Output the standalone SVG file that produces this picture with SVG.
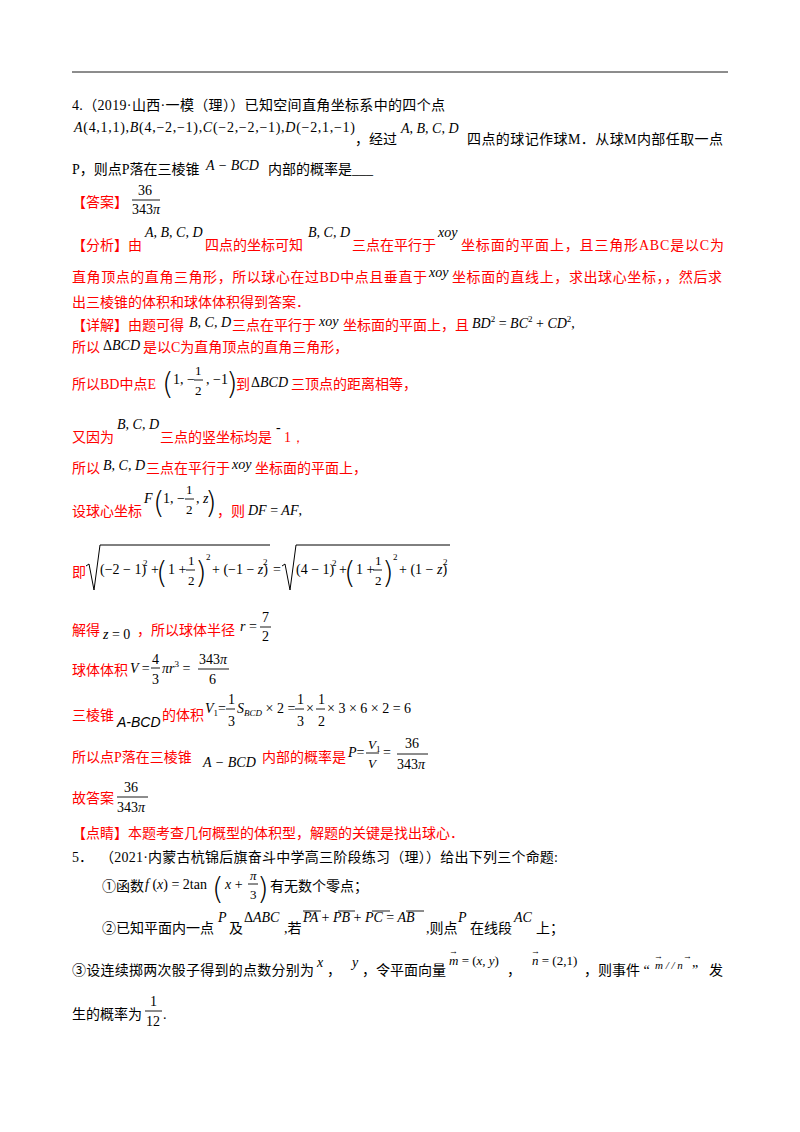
<svg xmlns="http://www.w3.org/2000/svg" width="800" height="1132" viewBox="0 0 800 1132">
<style>
text{font-family:"Liberation Serif","Noto Sans CJK SC",serif;font-size:14px;fill:#000}
.r{fill:#f00}
.m{font-family:"Liberation Serif",serif;font-style:italic}
.n{font-family:"Liberation Serif",serif;font-style:normal}
.s{font-size:9px}
.f{font-size:13px}
.p{font-family:"DejaVu Sans",sans-serif;font-size:30px;font-weight:200}
line{stroke:#000;stroke-width:0.9}
</style>
<rect width="800" height="1132" fill="#fff"/>
<line x1="72" y1="72" x2="728" y2="72" stroke-width="1.5"/>
<g id="q4">
<text x="72" y="110" textLength="373">4.（2019·山西·一模（理））已知空间直角坐标系中的四个点</text>
<text x="74" y="132" class="m" textLength="281"><tspan>A</tspan><tspan class="n">(4,1,1),</tspan>B<tspan class="n">(4,−2,−1),</tspan>C<tspan class="n">(−2,−2,−1),</tspan>D<tspan class="n">(−2,1,−1)</tspan></text>
<text x="355" y="144">，经过</text>
<text x="401" y="133" class="m">A, B, C, D</text>
<text x="467" y="144" textLength="256">四点的球记作球M．从球M内部任取一点</text>
<text x="72" y="174">P，则点P落在三棱锥</text>
<text x="206" y="170" class="m">A − BCD</text>
<text x="268" y="174">内部的概率是___</text>
</g>
<g id="ans">
<text x="72" y="207" class="r">【答案】</text>
<text x="138" y="195" class="n">36</text>
<line x1="132" y1="200" x2="160" y2="200"/>
<text x="132" y="214" class="n">343<tspan class="m">π</tspan></text>
<text x="72" y="250" class="r">【分析】由</text>
<text x="145" y="237" class="m">A, B, C, D</text>
<text x="205" y="250" class="r">四点的坐标可知</text>
<text x="308" y="237" class="m">B, C, D</text>
<text x="352" y="250" class="r">三点在平行于</text>
<text x="438" y="237" class="m">xoy</text>
<text x="461" y="250" class="r" textLength="263">坐标面的平面上，且三角形ABC是以C为</text>
<text x="72" y="282" class="r" textLength="355">直角顶点的直角三角形，所以球心在过BD中点且垂直于</text>
<text x="429" y="277" class="m">xoy</text>
<text x="452" y="282" class="r" textLength="270">坐标面的直线上，求出球心坐标，，然后求</text>
<text x="72" y="307" class="r">出三棱锥的体积和球体体积得到答案．</text>
<text x="72" y="330" class="r">【详解】由题可得</text>
<text x="189" y="327" class="m">B, C, D</text>
<text x="232" y="330" class="r">三点在平行于</text>
<text x="319" y="326" class="m">xoy</text>
<text x="343" y="330" class="r">坐标面的平面上，且</text>
<text x="472" y="328" class="m">BD<tspan class="s n" dy="-6">2</tspan><tspan class="n" dy="6"> = </tspan>BC<tspan class="s n" dy="-6">2</tspan><tspan class="n" dy="6"> + </tspan>CD<tspan class="s n" dy="-6">2</tspan><tspan class="n" dy="6">,</tspan></text>
<text x="72" y="352" class="r">所以</text>
<text x="103" y="350" class="m"><tspan class="n">Δ</tspan>BCD</text>
<text x="143" y="352" class="r">是以C为直角顶点的直角三角形，</text>
<text x="72" y="389" class="r">所以BD中点E</text>
<text x="162" y="394" class="p">(</text>
<text x="173" y="384" class="n">1, −</text>
<text x="195" y="375" class="n f">1</text>
<line x1="194" y1="380" x2="203" y2="380"/>
<text x="195" y="395" class="n f">2</text>
<text x="206" y="384" class="n">, −1</text>
<text x="226" y="394" class="p">)</text>
<text x="236" y="389" class="r">到</text>
<text x="251" y="387" class="m"><tspan class="n">Δ</tspan>BCD</text>
<text x="291" y="389" class="r">三顶点的距离相等，</text>
<text x="72" y="442" class="r">又因为</text>
<text x="117" y="429" class="m">B, C, D</text>
<text x="160" y="442" class="r">三点的竖坐标均是</text>
<text x="276" y="432" class="n">-</text>
<text x="284" y="442" class="n r">1，</text>
<text x="72" y="473" class="r">所以</text>
<text x="103" y="470" class="m">B, C, D</text>
<text x="146" y="473" class="r">三点在平行于</text>
<text x="232" y="469" class="m">xoy</text>
<text x="255" y="473" class="r">坐标面的平面上，</text>
<text x="72" y="516" class="r">设球心坐标</text>
<text x="144" y="503" class="m">F</text>
<text x="153" y="513" class="p">(</text>
<text x="163" y="503" class="n">1, −</text>
<text x="186" y="494" class="n f">1</text>
<line x1="185" y1="499" x2="194" y2="499"/>
<text x="186" y="514" class="n f">2</text>
<text x="196" y="503" class="n">, <tspan class="m">z</tspan></text>
<text x="205" y="513" class="p">)</text>
<text x="217" y="516" class="r">，则</text>
<text x="248" y="515" class="m">DF <tspan class="n">=</tspan> AF<tspan class="n">,</tspan></text>
<text x="72" y="577" class="r">即</text>
<path d="M86 566 L89 564 L94 590 L100 545 L270 545" fill="none" stroke="#000"/>
<text x="100" y="574" class="n">(−2 − 1)</text>
<text x="143" y="566" class="n s">2</text>
<text x="151" y="574" class="n">+</text>
<text x="156" y="583" class="p">(</text>
<text x="168" y="574" class="n">1 +</text>
<text x="188" y="565" class="n f">1</text>
<line x1="186" y1="570" x2="195" y2="570"/>
<text x="188" y="585" class="n f">2</text>
<text x="195" y="583" class="p">)</text>
<text x="206" y="560" class="n s">2</text>
<text x="212" y="574" class="n">+ (−1 − <tspan class="m">z</tspan>)</text>
<text x="263" y="565" class="n s">2</text>
<text x="273" y="574" class="n">=</text>
<path d="M282 566 L285 564 L290 590 L296 545 L450 545" fill="none" stroke="#000"/>
<text x="296" y="574" class="n">(4 − 1)</text>
<text x="332" y="566" class="n s">2</text>
<text x="339" y="574" class="n">+</text>
<text x="344" y="583" class="p">(</text>
<text x="356" y="574" class="n">1 +</text>
<text x="375" y="565" class="n f">1</text>
<line x1="373" y1="570" x2="382" y2="570"/>
<text x="375" y="585" class="n f">2</text>
<text x="382" y="583" class="p">)</text>
<text x="393" y="560" class="n s">2</text>
<text x="399" y="574" class="n">+ (1 − <tspan class="m">z</tspan>)</text>
<text x="443" y="565" class="n s">2</text>
<text x="72" y="635" class="r">解得</text>
<text x="103" y="639" class="m">z <tspan class="n">= 0</tspan></text>
<text x="137" y="635" class="r">，所以球体半径</text>
<text x="240" y="631" class="m">r <tspan class="n">=</tspan></text>
<text x="262" y="622" class="n">7</text>
<line x1="260" y1="627" x2="271" y2="627"/>
<text x="262" y="641" class="n">2</text>
<text x="72" y="675" class="r">球体体积</text>
<text x="130" y="673" class="m">V <tspan class="n">=</tspan></text>
<text x="152" y="664" class="n">4</text>
<line x1="151" y1="668" x2="160" y2="668"/>
<text x="152" y="684" class="n">3</text>
<text x="162" y="673" class="m">πr<tspan class="s n" dy="-6">3</tspan><tspan class="n" dy="6"> =</tspan></text>
<text x="199" y="664" class="n">343<tspan class="m">π</tspan></text>
<line x1="198" y1="669" x2="229" y2="669"/>
<text x="209" y="684" class="n">6</text>
<text x="72" y="720" class="r">三棱锥</text>
<text x="117" y="727" class="m" style="font-family:'Liberation Sans',sans-serif">A-BCD</text>
<text x="162" y="720" class="r">的体积</text>
<text x="205" y="713" class="m">V<tspan class="s n" dy="3">1</tspan><tspan class="n" dy="-3">=</tspan></text>
<text x="228" y="704" class="n">1</text>
<line x1="226" y1="709" x2="235" y2="709"/>
<text x="228" y="726" class="n">3</text>
<text x="237" y="713" class="m">S<tspan class="s" dy="3">BCD</tspan><tspan class="n" dy="-3"> × 2 =</tspan></text>
<text x="297" y="704" class="n">1</text>
<line x1="295" y1="709" x2="304" y2="709"/>
<text x="297" y="726" class="n">3</text>
<text x="306" y="713" class="n">×</text>
<text x="318" y="704" class="n">1</text>
<line x1="316" y1="709" x2="325" y2="709"/>
<text x="318" y="726" class="n">2</text>
<text x="327" y="713" class="n">× 3 × 6 × 2 = 6</text>
<text x="72" y="762" class="r">所以点P落在三棱锥</text>
<text x="203" y="767" class="m">A − BCD</text>
<text x="262" y="762" class="r">内部的概率是</text>
<text x="348" y="757" class="m">P<tspan class="n">=</tspan></text>
<text x="368" y="749" class="m f">V<tspan class="s n" dy="3">1</tspan></text>
<line x1="366" y1="753" x2="379" y2="753"/>
<text x="368" y="768" class="m f">V</text>
<text x="383" y="757" class="n">=</text>
<text x="405" y="748" class="n">36</text>
<line x1="397" y1="754" x2="428" y2="754"/>
<text x="397" y="769" class="n">343<tspan class="m">π</tspan></text>
<text x="72" y="803" class="r">故答案</text>
<text x="124" y="792" class="n">36</text>
<line x1="117" y1="797" x2="148" y2="797"/>
<text x="117" y="812" class="n">343<tspan class="m">π</tspan></text>
<text x="72" y="838" class="r">【点睛】本题考查几何概型的体积型，解题的关键是找出球心．</text>
</g>
<g id="q5">
<text x="72" y="862">5．</text>
<text x="100" y="862" textLength="458">（2021·内蒙古杭锦后旗奋斗中学高三阶段练习（理））给出下列三个命题:</text>
<text x="102" y="891">①函数</text>
<text x="145" y="889" class="m">f <tspan class="n">(</tspan>x<tspan class="n">) = 2tan</tspan></text>
<text x="212" y="899" class="p">(</text>
<text x="225" y="889" class="m">x <tspan class="n">+</tspan></text>
<text x="250" y="880" class="m f">π</text>
<line x1="248" y1="884" x2="258" y2="884"/>
<text x="250" y="899" class="n f">3</text>
<text x="257" y="899" class="p">)</text>
<text x="270" y="891">有无数个零点；</text>
<text x="102" y="933">②已知平面内一点</text>
<text x="218" y="922" class="m">P</text>
<text x="229" y="933">及</text>
<text x="244" y="922" class="m"><tspan class="n">Δ</tspan>ABC</text>
<text x="284" y="933">,若</text>
<text x="303" y="922" class="m">PA <tspan class="n">+</tspan> PB <tspan class="n">+</tspan> PC <tspan class="n">=</tspan> AB</text>
<line x1="303" y1="911" x2="321" y2="911"/><line x1="338" y1="911" x2="355" y2="911"/><line x1="372" y1="911" x2="390" y2="911"/><line x1="406" y1="911" x2="424" y2="911"/>
<text x="426" y="933">,则点</text>
<text x="458" y="922" class="m">P</text>
<text x="470" y="933">在线段</text>
<text x="514" y="922" class="m">AC</text>
<text x="536" y="933">上；</text>
<text x="72" y="975" textLength="242">③设连续掷两次骰子得到的点数分别为</text>
<text x="317" y="967" class="m">x</text>
<text x="327" y="975">，</text>
<text x="352" y="967" class="m">y</text>
<text x="362" y="975">，令平面向量</text>
<text x="449" y="965" class="m f">m <tspan class="n">= (</tspan>x, y<tspan class="n">)</tspan></text>
<text x="449" y="954" class="n s">→</text>
<text x="507" y="975">，</text>
<text x="532" y="965" class="m f">n <tspan class="n">= (2,1)</tspan></text>
<text x="531" y="954" class="n s">→</text>
<text x="584" y="975">，则事件 “</text>
<text x="655" y="969" class="m" style="font-size:11px">m / / n</text>
<text x="654" y="959" class="n s">→</text>
<text x="683" y="959" class="n s">→</text>
<text x="692" y="975">”</text>
<text x="709" y="975">发</text>
<text x="72" y="1019">生的概率为</text>
<text x="150" y="1006" class="n">1</text>
<line x1="145" y1="1011" x2="162" y2="1011"/>
<text x="146" y="1026" class="n">12</text>
<text x="163" y="1019" class="n">.</text>
</g>
</svg>
